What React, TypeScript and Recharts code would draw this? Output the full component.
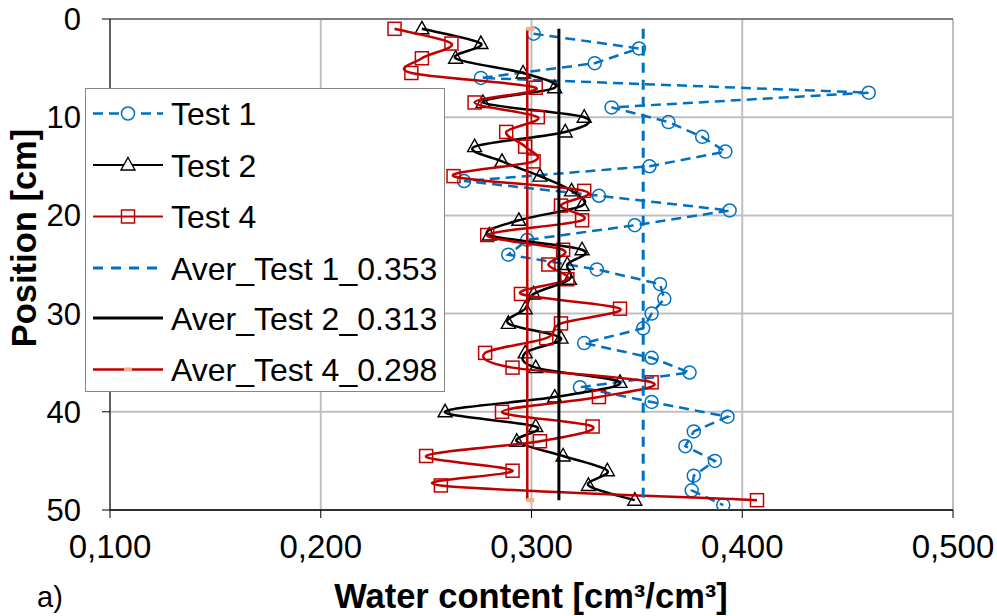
import React from 'react';
import { ScatterChart, Scatter, XAxis, YAxis, CartesianGrid, ReferenceLine } from 'recharts';

// ---------- data ----------
const test1Pos = [1.5, 3, 4.5, 6, 7.5, 9, 10.5, 12, 13.5, 15, 16.5, 18, 19.5, 21, 22.5, 24, 25.5, 27, 28.5, 30, 31.5, 33, 34.5, 36, 37.5, 39, 40.5, 42, 43.5, 45, 46.5, 48, 49.5];
const test1Val = [0.301, 0.351, 0.330, 0.276, 0.460, 0.338, 0.365, 0.381, 0.392, 0.356, 0.268, 0.332, 0.394, 0.349, 0.298, 0.289, 0.331, 0.361, 0.363, 0.357, 0.353, 0.325, 0.357, 0.375, 0.323, 0.357, 0.393, 0.377, 0.373, 0.387, 0.377, 0.376, 0.391];

const test2Pos = [1, 2.5, 4, 5.5, 7, 8.5, 10, 11.5, 13, 14.5, 16, 17.5, 19, 20.5, 22, 23.5, 25, 26.5, 28, 29.5, 31, 32.5, 34, 35.5, 37, 38.5, 40, 41.5, 43, 44.5, 46, 47.5, 49];
const test2Val = [0.248, 0.276, 0.264, 0.296, 0.311, 0.277, 0.325, 0.316, 0.273, 0.286, 0.304, 0.319, 0.324, 0.294, 0.280, 0.324, 0.317, 0.318, 0.301, 0.297, 0.289, 0.314, 0.297, 0.302, 0.342, 0.311, 0.259, 0.302, 0.293, 0.315, 0.336, 0.327, 0.349];

const test4Pos = [1, 2.5, 4, 5.5, 7, 8.5, 10, 11.5, 13, 14.5, 16, 17.5, 19, 20.5, 22, 23.5, 25, 26.5, 28, 29.5, 31, 32.5, 34, 35.5, 37, 38.5, 40, 41.5, 43, 44.5, 46, 47.5, 49];
const test4Val = [0.235, 0.262, 0.248, 0.243, 0.302, 0.273, 0.303, 0.288, 0.297, 0.301, 0.263, 0.325, 0.314, 0.324, 0.279, 0.315, 0.308, 0.317, 0.295, 0.342, 0.314, 0.307, 0.278, 0.291, 0.357, 0.332, 0.286, 0.329, 0.304, 0.250, 0.291, 0.257, 0.407];

const averPos = [1, 49];
const aver1Val = 0.353;
const aver2Val = 0.313;
const aver4Val = 0.298;

const seriesNames = ['Test 1', 'Test 2', 'Test 4', 'Aver_Test 1_0.353', 'Aver_Test 2_0.313', 'Aver_Test 4_0.298'];

const xTicks = [0.1, 0.2, 0.3, 0.4, 0.5];
const xTickLabels = ['0,100', '0,200', '0,300', '0,400', '0,500'];
const yTicks = [0, 10, 20, 30, 40, 50];

const xTitle = 'Water content [cm³/cm³]';
const yTitle = 'Position [cm]';
const panelLabel = 'a)';

// ---------- build ----------
const pts = (pos: number[], val: number[]) => pos.map((p, i) => ({ x: val[i], y: p }));
const test1Data = pts(test1Pos, test1Val);
const test2Data = pts(test2Pos, test2Val);
const test4Data = pts(test4Pos, test4Val);
const aver1Data = averPos.map((p) => ({ x: aver1Val, y: p }));
const aver2Data = averPos.map((p) => ({ x: aver2Val, y: p }));
const aver4Data = averPos.map((p) => ({ x: aver4Val, y: p }));

const FONT = '"Liberation Sans", Arial, sans-serif';
const BLUE = '#0070C0';
const RED = '#C00000';
const BLACK = '#000000';
const SALMON = '#F4B183';

// Excel-like smoothed line (Catmull-Rom style bezier)
function excelSmooth(context: any) {
  let p: number[][] = [];
  return {
    areaStart() {},
    areaEnd() {},
    lineStart() {
      p = [];
    },
    point(x: number, y: number) {
      p.push([+x, +y]);
    },
    lineEnd() {
      const n = p.length;
      if (!n) return;
      context.moveTo(p[0][0], p[0][1]);
      if (n === 1) return;
      const t = 1 / 6;
      for (let i = 0; i < n - 1; i++) {
        const p0 = p[i - 1] || p[i];
        const p1 = p[i];
        const p2 = p[i + 1];
        const p3 = p[i + 2] || p2;
        context.bezierCurveTo(
          p1[0] + (p2[0] - p0[0]) * t,
          p1[1] + (p2[1] - p0[1]) * t,
          p2[0] - (p3[0] - p1[0]) * t,
          p2[1] - (p3[1] - p1[1]) * t,
          p2[0],
          p2[1]
        );
      }
    },
  };
}

const CircleMark = (props: any) => (
  <circle cx={props.cx} cy={props.cy} r={6.5} fill="none" stroke={BLUE} strokeWidth={1.5} />
);
const TriMark = (props: any) => {
  const { cx, cy } = props;
  return (
    <path
      d={`M${cx},${cy - 7.5} L${cx + 7},${cy + 5} L${cx - 7},${cy + 5} Z`}
      fill="none"
      stroke={BLACK}
      strokeWidth={1.4}
    />
  );
};
const SquareMark = (props: any) => (
  <rect x={props.cx - 6.5} y={props.cy - 6.5} width={13} height={13} fill="none" stroke={RED} strokeWidth={1.5} />
);
const NoMark = () => <g />;
const DashMark = (props: any) => (
  <rect x={props.cx - 1} y={props.cy - 2} width={8} height={4} fill={SALMON} />
);

const Legend = () => {
  const rows = [113.5, 165, 216.5, 268, 318, 369.5];
  const x1 = 93;
  const x2 = 163;
  const mx = 128;
  return (
    <svg
      width={997}
      height={616}
      style={{ position: 'absolute', left: 0, top: 0, pointerEvents: 'none' }}
    >
      <rect x={85.5} y={88.5} width={359} height={303} fill="#fff" stroke="#868686" strokeWidth={1} />
      {/* Test 1 */}
      <line x1={x1} x2={x2} y1={rows[0]} y2={rows[0]} stroke={BLUE} strokeWidth={2.5} strokeDasharray="10 6" />
      <circle cx={mx} cy={rows[0]} r={6.5} fill="#fff" stroke={BLUE} strokeWidth={1.5} />
      {/* Test 2 */}
      <line x1={x1} x2={x2} y1={rows[1]} y2={rows[1]} stroke={BLACK} strokeWidth={2} />
      <path d={`M${mx},${rows[1] - 7.5} L${mx + 7},${rows[1] + 5} L${mx - 7},${rows[1] + 5} Z`} fill="#fff" stroke={BLACK} strokeWidth={1.4} />
      {/* Test 4 */}
      <line x1={x1} x2={x2} y1={rows[2]} y2={rows[2]} stroke={RED} strokeWidth={2} />
      <rect x={mx - 6.5} y={rows[2] - 6.5} width={13} height={13} fill="none" stroke={RED} strokeWidth={1.5} />
      {/* Aver 1 */}
      <line x1={x1} x2={x2} y1={rows[3]} y2={rows[3]} stroke={BLUE} strokeWidth={3} strokeDasharray="10 8" />
      {/* Aver 2 */}
      <line x1={x1} x2={x2} y1={rows[4]} y2={rows[4]} stroke={BLACK} strokeWidth={3} />
      {/* Aver 4 */}
      <line x1={x1} x2={x2} y1={rows[5]} y2={rows[5]} stroke={RED} strokeWidth={2.5} />
      <rect x={mx - 4} y={rows[5] - 2} width={8} height={4} fill={SALMON} />
      {seriesNames.map((n, i) => (
        <text key={n} x={171} y={rows[i] + 11.5} fontFamily={FONT} fontSize={32} fill="#000">
          {n}
        </text>
      ))}
    </svg>
  );
};

const Titles = () => (
  <svg width={997} height={616} style={{ position: 'absolute', left: 0, top: 0, pointerEvents: 'none' }}>
    <text x={531} y={608} textAnchor="middle" fontFamily={FONT} fontWeight="bold" fontSize={34.5} fill="#000">
      {xTitle}
    </text>
    <text
      transform="translate(36,238) rotate(-90)"
      textAnchor="middle"
      fontFamily={FONT}
      fontWeight="bold"
      fontSize={34.5}
      fill="#000"
    >
      {yTitle}
    </text>
    <text x={37} y={607} fontFamily={FONT} fontSize={29} fill="#000">
      {panelLabel}
    </text>
  </svg>
);

const fmtX = (v: number) => {
  const i = xTicks.findIndex((t) => Math.abs(t - v) < 1e-9);
  return i >= 0 ? xTickLabels[i] : String(v);
};

export default function App() {
  return (
    <div style={{ position: 'absolute', left: 0, top: 0, width: 997, height: 616, background: '#fff', overflow: 'hidden' }}>
      <ScatterChart width={997} height={616} margin={{ top: 19, right: 44, bottom: 0, left: 0 }}>
        <CartesianGrid stroke="#BFBFBF" strokeWidth={2} />
        <XAxis
          type="number"
          dataKey="x"
          domain={[0.1, 0.5]}
          ticks={xTicks}
          interval={0}
          allowDataOverflow
          tickFormatter={fmtX}
          height={106}
          tickSize={8}
          tickMargin={17}
          axisLine={{ stroke: '#000', strokeWidth: 1.5 }}
          tickLine={{ stroke: '#000', strokeWidth: 1 }}
          tick={{ fontSize: 33, fill: '#000', fontFamily: FONT }}
        />
        <YAxis
          type="number"
          dataKey="y"
          domain={[0, 50]}
          reversed
          ticks={yTicks}
          interval={0}
          allowDataOverflow
          width={110}
          tickSize={8}
          tickMargin={21}
          axisLine={{ stroke: '#000', strokeWidth: 1 }}
          tickLine={{ stroke: '#000', strokeWidth: 1 }}
          tick={{ fontSize: 31, fill: '#000', fontFamily: FONT }}
        />
        <ReferenceLine y={0} stroke="#7F7F7F" strokeWidth={2} />
        <Scatter
          name={seriesNames[0]}
          data={test1Data}
          fill={BLUE}
          shape={CircleMark}
          line={{ stroke: BLUE, strokeWidth: 2.5, strokeDasharray: '10 6' }}
          lineType="joint"
          isAnimationActive={false}
        />
        <Scatter
          name={seriesNames[1]}
          data={test2Data}
          fill={BLACK}
          shape={TriMark}
          line={{ stroke: BLACK, strokeWidth: 2.5 }}
          lineType="joint"
          lineJointType={excelSmooth as any}
          isAnimationActive={false}
        />
        <Scatter
          name={seriesNames[2]}
          data={test4Data}
          fill={RED}
          shape={SquareMark}
          line={{ stroke: RED, strokeWidth: 2.5 }}
          lineType="joint"
          lineJointType={excelSmooth as any}
          isAnimationActive={false}
        />
        <Scatter
          name={seriesNames[3]}
          data={aver1Data}
          fill={BLUE}
          shape={NoMark}
          line={{ stroke: BLUE, strokeWidth: 3, strokeDasharray: '10 7' }}
          lineType="joint"
          isAnimationActive={false}
        />
        <Scatter
          name={seriesNames[4]}
          data={aver2Data}
          fill={BLACK}
          shape={NoMark}
          line={{ stroke: BLACK, strokeWidth: 3 }}
          lineType="joint"
          isAnimationActive={false}
        />
        <Scatter
          name={seriesNames[5]}
          data={aver4Data}
          fill={RED}
          shape={DashMark}
          line={{ stroke: RED, strokeWidth: 2.5 }}
          lineType="joint"
          isAnimationActive={false}
        />
      </ScatterChart>
      <Legend />
      <Titles />
    </div>
  );
}
